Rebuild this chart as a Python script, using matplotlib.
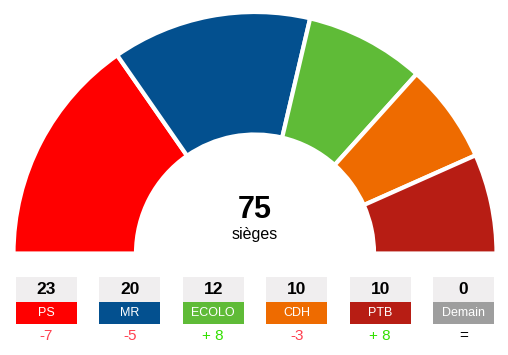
import matplotlib.pyplot as plt
from matplotlib.patches import Wedge, Rectangle

plt.rcParams['font.family'] = ['Liberation Sans', 'DejaVu Sans']

# Data
parties = ["PS", "MR", "ECOLO", "CDH", "PTB", "Demain"]
seats = [23, 20, 12, 10, 10, 0]
changes = ["-7", "-5", "+ 8", "-3", "+ 8", "="]
colors = ["#FF0000", "#03508F", "#5FBB37", "#EE6B00", "#B71D14", "#9E9E9E"]
total = sum(seats)

W, H = 508, 355
fig = plt.figure(figsize=(W / 100, H / 100), dpi=100)
ax = fig.add_axes([0, 0, 1, 1])
ax.set_xlim(0, W)
ax.set_ylim(H, 0)
ax.axis("off")

# Hemicycle (y axis inverted, so angles run the other way)
cx, cy = 255, 253.5
r_out, r_in = 241.5, 119
start = 180
for seat, col in zip(seats, colors):
    if seat == 0:
        continue
    span = seat / total * 180
    ax.add_patch(Wedge((cx, cy), r_out, -start, -(start - span),
                       width=r_out - r_in, facecolor=col,
                       edgecolor="white", linewidth=3))
    start -= span

ax.text(cx, 210, str(total), ha="center", va="center",
        fontsize=22, fontweight="bold", color="black")
ax.text(cx, 234, "sièges", ha="center", va="center",
        fontsize=11.5, color="black")

# Boxes
box_w = 61
x0 = 16
step = 83.4
for i, (p, s, c, col) in enumerate(zip(parties, seats, changes, colors)):
    left = x0 + i * step
    mid = left + box_w / 2
    ax.add_patch(Rectangle((left, 277), box_w, 25, facecolor="#F0EEEF",
                           edgecolor="none"))
    ax.add_patch(Rectangle((left, 302), box_w, 22, facecolor=col,
                           edgecolor="none"))
    ax.text(mid, 290, str(s), ha="center", va="center",
            fontsize=12.5, fontweight="bold", color="black")
    ax.text(mid, 313.5, p, ha="center", va="center",
            fontsize=9, color="white")
    if c.startswith("-"):
        ccol = "#FF4050"
    elif c.startswith("+"):
        ccol = "#33E000"
    else:
        ccol = "black"
    ax.text(mid, 336, c, ha="center", va="center",
            fontsize=11, color=ccol)

fig.savefig("out.png", dpi=100)
